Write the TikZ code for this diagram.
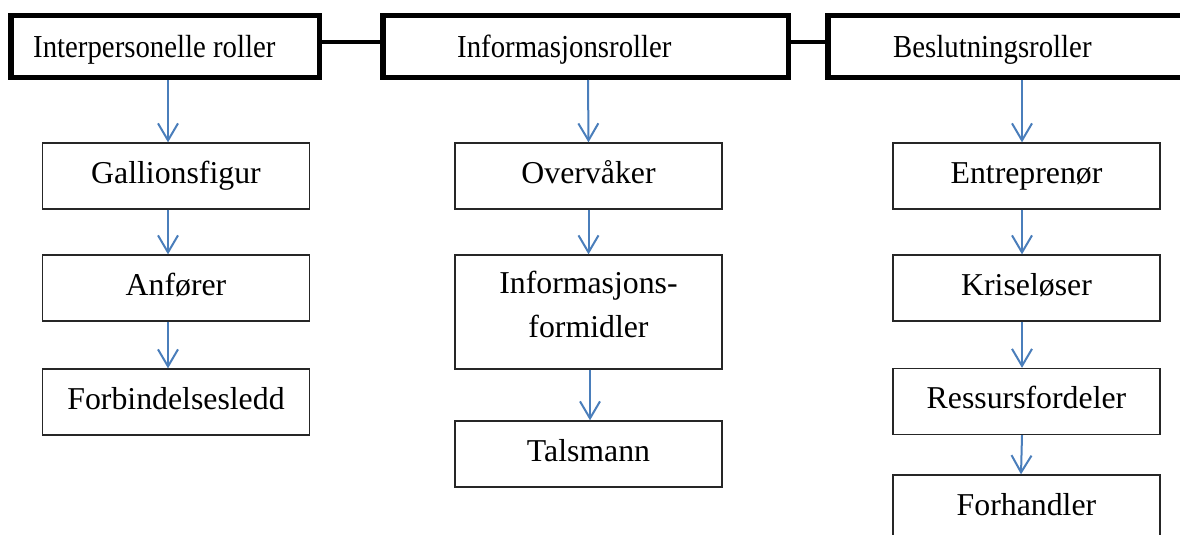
\documentclass[tikz,border=0pt]{standalone}
\usepackage{fontspec}
\setmainfont{Liberation Serif}
\newfontfamily\headfont[FakeStretch=0.9]{Liberation Serif}
\usetikzlibrary{arrows.meta}
\definecolor{arrowblue}{RGB}{74,126,187}
\begin{document}
\begin{tikzpicture}[x=1pt,y=-1pt,
  headbox/.style={draw, line width=5.5pt, minimum height=61.5pt, inner sep=0pt},
  headtext/.style={anchor=base west, inner sep=0pt, font=\headfont\fontsize{32}{38}\selectfont},
  rolebox/.style={draw=black!85, line width=1.3pt, minimum width=267pt, minimum height=66pt,
    inner sep=0pt, font=\fontsize{31.8}{44}\selectfont},
  oneline/.style={rolebox, text height=21.7pt, text depth=6.9pt},
  link/.style={line width=4.5pt},
  flow/.style={draw=arrowblue, line width=2pt, -{Straight Barb[length=17pt,width=20pt]}}]
\useasboundingbox (0,0) rectangle (1180,535);
\clip (0,0) rectangle (1180,535);

% three role categories along the top
\node[headbox, minimum width=308.5pt] (h1) at (165,46.5) {};
\node[headbox, minimum width=405.5pt] (h2) at (585.5,46.5) {};
\node[headbox, minimum width=372pt] (h3) at (1014,46.5) {};
\node[headtext] (h1t) at (33,57) {Interpersonelle roller};
\node[headtext] (h2t) at (457,57) {Informasjonsroller};
\node[headtext] (h3t) at (893,57) {Beslutningsroller};
\draw[link] ([yshift=4.5pt]h1.east) -- ([yshift=4.5pt]h2.west);
\draw[link] ([yshift=4.5pt]h2.east) -- ([yshift=4.5pt]h3.west);

% interpersonal roles
\node[oneline] (g1) at (176,176) {Gallionsfigur};
\node[oneline] (a1) at (176,288) {Anfører};
\node[oneline] (f1) at (176,402) {Forbindelsesledd};

% informational roles
\node[oneline] (o2) at (588.5,176) {Overvåker};
\node[rolebox, align=center, minimum height=114pt, text height=65.7pt, text depth=15.7pt] (i2) at (588.5,312) {Informasjons-\\formidler};
\node[oneline] (t2) at (588.5,454) {Talsmann};

% decisional roles
\node[oneline] (e3) at (1026.5,176) {Entreprenør};
\node[oneline] (k3) at (1026.5,288) {Kriseløser};
\node[oneline] (r3) at (1026.5,401.5) {Ressursfordeler};
\node[oneline] (fh3) at (1026.5,508) {Forhandler};

% downward flow in each column
\draw[flow] ([xshift=3pt]h1.south) -- ([xshift=-8pt]g1.north);
\draw[flow] ([xshift=-8pt]g1.south) -- ([xshift=-8pt]a1.north);
\draw[flow] ([xshift=-8pt]a1.south) -- ([xshift=-8pt]f1.north);

\draw[flow] ([xshift=2.5pt]h2.south) -- (o2.north);
\draw[flow] (o2.south) -- (i2.north);
\draw[flow] ([xshift=1.5pt]i2.south) -- ([xshift=1.5pt]t2.north);

\draw[flow] ([xshift=8pt]h3.south) -- ([xshift=-4.5pt]e3.north);
\draw[flow] ([xshift=-4.5pt]e3.south) -- ([xshift=-4.5pt]k3.north);
\draw[flow] ([xshift=-4.5pt]k3.south) -- ([xshift=-4.5pt]r3.north);
\draw[flow] ([xshift=-4.5pt]r3.south) -- ([xshift=-5.5pt]fh3.north);
\end{tikzpicture}
\end{document}
